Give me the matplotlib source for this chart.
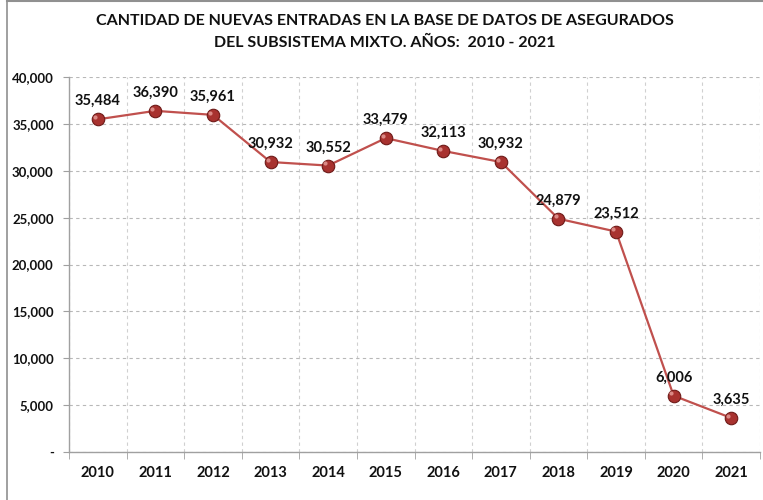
import matplotlib
matplotlib.use("Agg")
import matplotlib.pyplot as plt
from matplotlib.ticker import FuncFormatter, MultipleLocator, FixedLocator
from matplotlib.lines import Line2D

years = ["2010", "2011", "2012", "2013", "2014", "2015", "2016", "2017", "2018", "2019", "2020", "2021"]
values = [35484, 36390, 35961, 30932, 30552, 33479, 32113, 30932, 24879, 23512, 6006, 3635]
title = "CANTIDAD DE NUEVAS ENTRADAS EN LA BASE DE DATOS DE ASEGURADOS\nDEL SUBSISTEMA MIXTO. AÑOS:  2010 - 2021"

plt.rcParams['font.family'] = ['Lato', 'DejaVu Sans']

fig = plt.figure(figsize=(7.63, 5.00), dpi=100)
ax = fig.add_axes([69/763, 48/500, 691/763, 375/500])

x = list(range(len(years)))
ax.plot(x, values, color='#C0504D', lw=1.6, zorder=3)
ax.plot(x, values, ls='none', marker='o', ms=9, mfc='#A8322F', mec='#6E1A18', mew=0.8, zorder=4)
ax.plot([i - 0.05 for i in x], [v + 250 for v in values], ls='none', marker='o', ms=3,
        mfc='#E8A09C', mec='none', alpha=0.8, zorder=5)

for i, v in zip(x, values):
    ax.annotate(f"{v:,}", (i, v), xytext=(0, 8), textcoords='offset points',
                ha='center', va='bottom', fontsize=10.5, fontweight='bold', color='#111111', zorder=6)

ax.set_xlim(-0.5, len(years) - 0.5)
ax.set_ylim(0, 40000)
ax.yaxis.set_major_locator(MultipleLocator(5000))
ax.yaxis.set_major_formatter(FuncFormatter(lambda v, p: "-" if v == 0 else f"{int(v):,}"))
ax.set_xticks(x)
ax.set_xticklabels(years)
ax.xaxis.set_minor_locator(FixedLocator([i - 0.5 for i in range(len(years) + 1)]))
ax.tick_params(axis='x', which='major', length=0, pad=10, labelsize=10.5)
ax.tick_params(axis='x', which='minor', length=5, color='#A0A0A0')
ax.tick_params(axis='y', length=4, color='#A0A0A0', labelsize=9.5, pad=7)
for lbl in ax.get_xticklabels() + ax.get_yticklabels():
    lbl.set_fontweight('bold')
    lbl.set_color('#111111')

ax.grid(True, axis='y', which='major', ls=(0, (3, 3)), color='#B8B8B8', lw=0.8)
ax.grid(True, axis='x', which='minor', ls=(0, (3, 3)), color='#D0D0D0', lw=0.8)
ax.grid(False, axis='x', which='major')
ax.set_axisbelow(True)
for s in ['top', 'right']:
    ax.spines[s].set_visible(False)
for s in ['left', 'bottom']:
    ax.spines[s].set_color('#A0A0A0')
    ax.spines[s].set_linewidth(1.0)

fig.text(385/763, 1 - 32/500, title, ha='center', va='center', fontsize=11.5, fontweight='bold',
         color='#111111', linespacing=1.75)

# outer border (left and top)
fig.add_artist(Line2D([7/763, 7/763], [0, 1], transform=fig.transFigure, color='#909090', lw=1.2))
fig.add_artist(Line2D([7/763, 1], [1 - 1/500, 1 - 1/500], transform=fig.transFigure, color='#909090', lw=1.5))

fig.savefig("out.png", dpi=100, facecolor='white')
